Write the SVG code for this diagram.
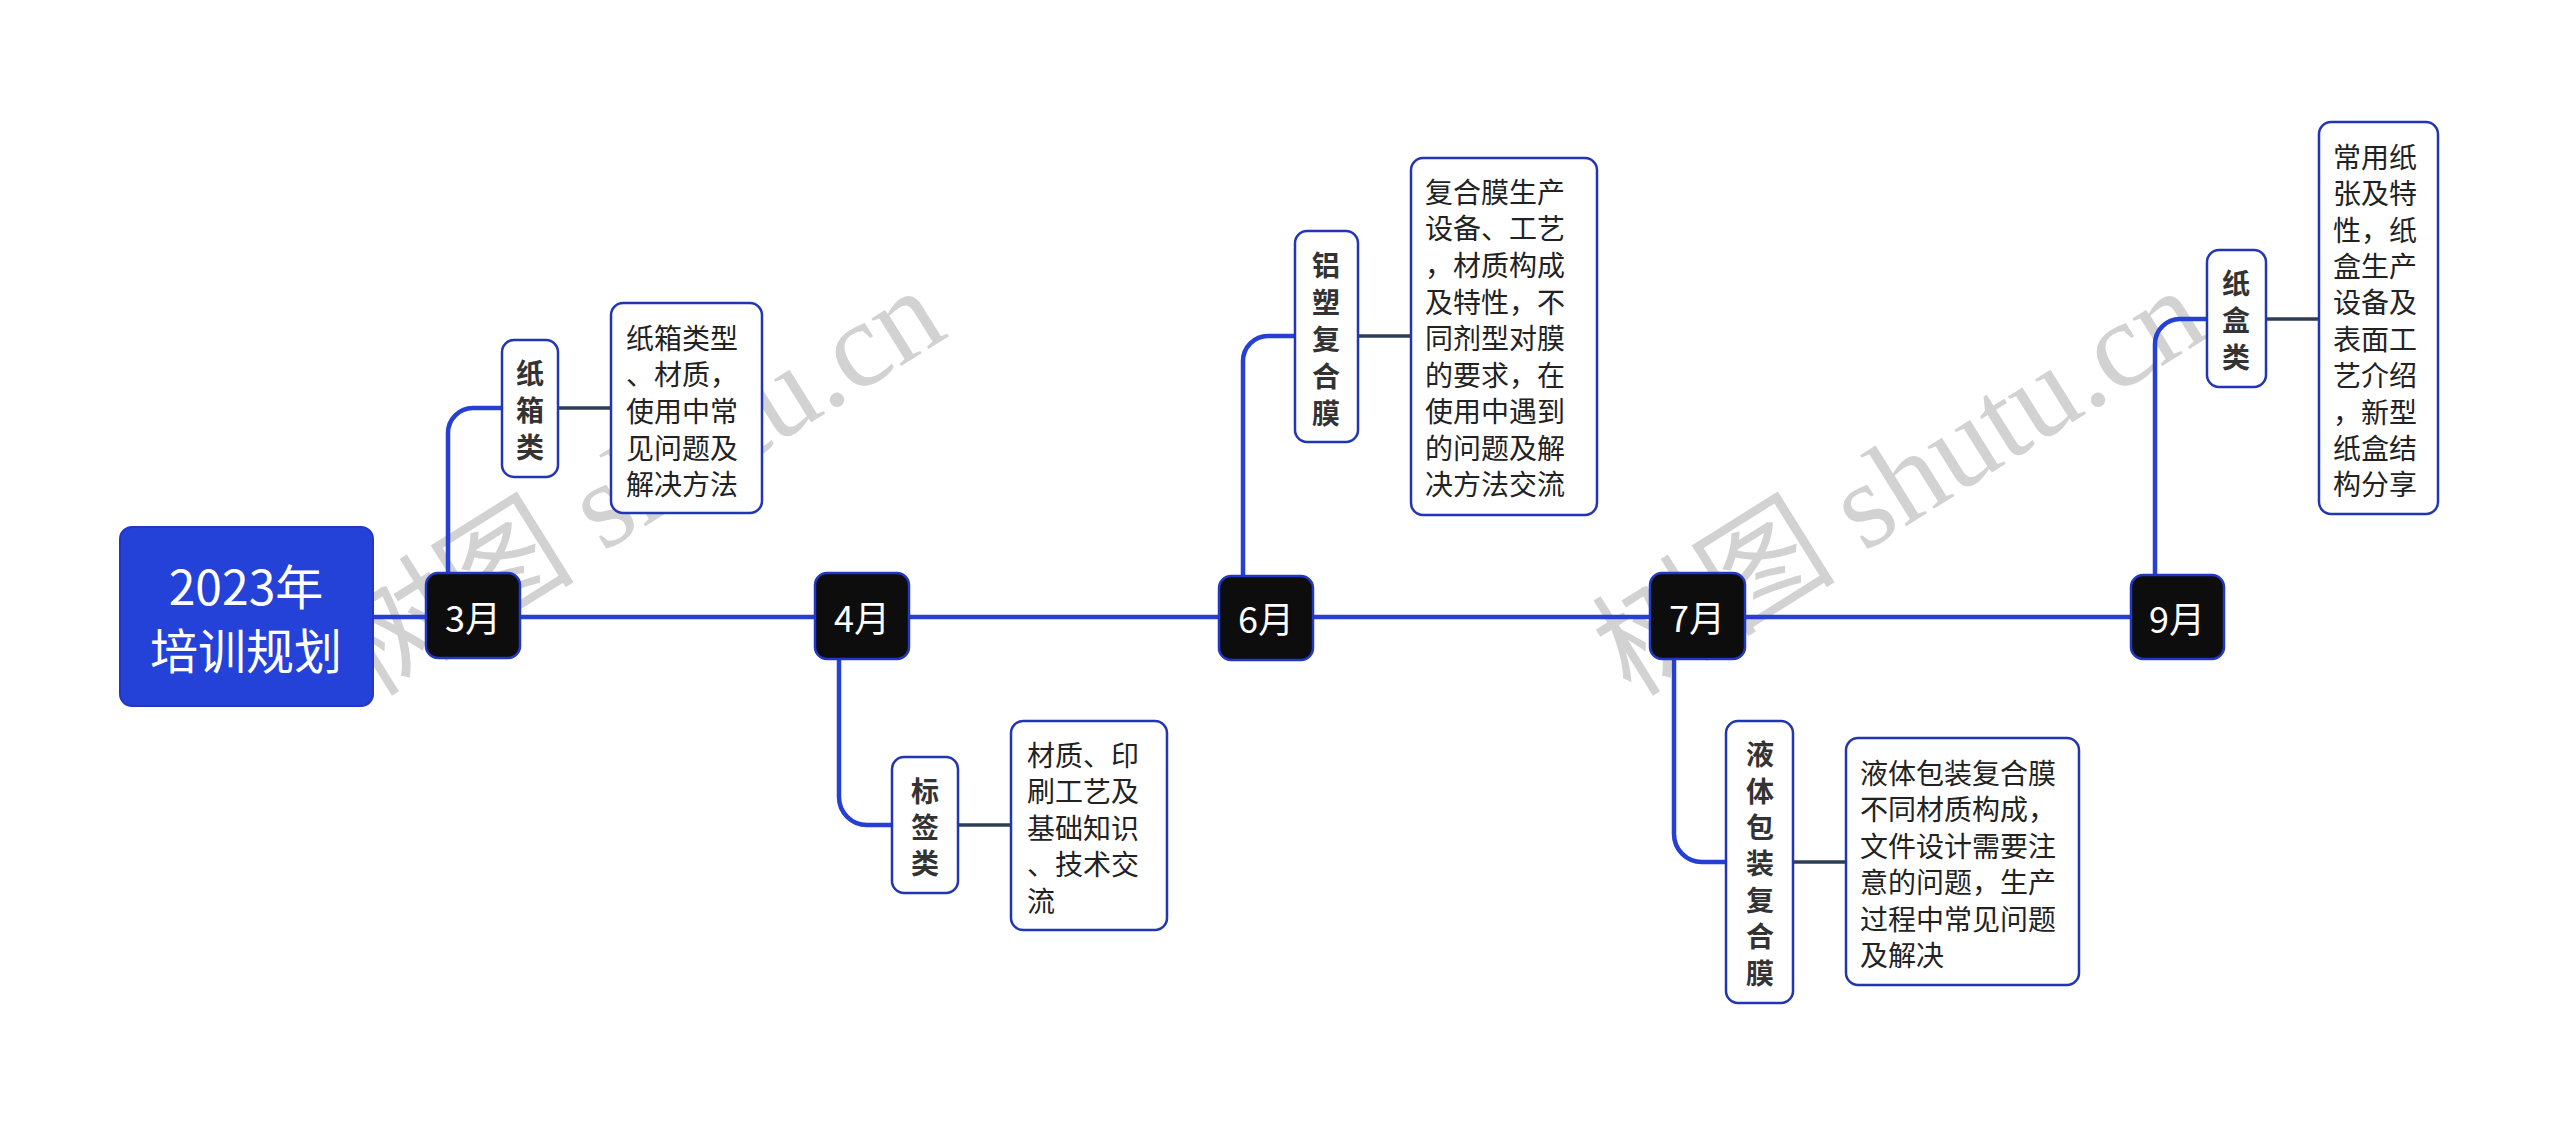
<svg xmlns="http://www.w3.org/2000/svg" width="2560" height="1125" viewBox="0 0 2560 1125">
<style>
.wm{font-family:"Liberation Serif","Noto Sans CJK SC",serif;font-size:122px;fill:#d2d2d2}
.main{fill:none;stroke:#2540d2;stroke-width:4.5}
.link{fill:none;stroke:#2c3e56;stroke-width:3.5}
.root{fill:#2441d8;stroke:#2238c4;stroke-width:2}
.month{fill:#0d0d0d;stroke:#2238c4;stroke-width:2.5}
.box{fill:#ffffff;stroke:#2236b4;stroke-width:2.5}
.rt{font-family:"Noto Sans CJK SC",sans-serif;font-size:48px;fill:#ffffff;text-anchor:middle;dominant-baseline:central}
.mt{font-family:"Noto Sans CJK SC",sans-serif;font-size:36px;fill:#ffffff;text-anchor:middle;dominant-baseline:central}
.st{font-family:"Noto Sans CJK SC",sans-serif;font-size:28px;font-weight:bold;fill:#333333;text-anchor:middle;dominant-baseline:central}
.dt{font-family:"Noto Sans CJK SC",sans-serif;font-size:28px;fill:#222222;dominant-baseline:central}
</style>
<rect width="2560" height="1125" fill="#ffffff"/>
<g id="watermark">
<text class="wm" transform="translate(370,698) rotate(-32)">树图 shutu.cn</text>
<text class="wm" transform="translate(1631,698) rotate(-32)">树图 shutu.cn</text>
</g>
<g id="connectors">
<path class="main" d="M373,617 H2131"/>
<path class="main" d="M448,573 V433 A25 25 0 0 1 473,408 H502"/>
<path class="main" d="M839,659 V797 A28 28 0 0 0 867,825 H892"/>
<path class="main" d="M1243,576 V361 A25 25 0 0 1 1268,336 H1295"/>
<path class="main" d="M1674,659 V834 A28 28 0 0 0 1702,862 H1726"/>
<path class="main" d="M2155,575 V344 A25 25 0 0 1 2180,319 H2207"/>
<path class="link" d="M558,408 H611"/>
<path class="link" d="M958,825 H1011"/>
<path class="link" d="M1358,336 H1411"/>
<path class="link" d="M1793,862 H1846"/>
<path class="link" d="M2266,319 H2319"/>
</g>
<g id="root">
<rect class="root" x="120" y="527" width="253" height="179" rx="12"/>
<text class="rt" x="246" y="584">2023年</text>
<text class="rt" x="246" y="648">培训规划</text>
</g>
<g id="m3">
<rect class="month" x="426" y="573" width="94" height="85" rx="12"/>
<text class="mt" x="473" y="616">3月</text>
</g>
<g id="m4">
<rect class="month" x="815" y="573" width="94" height="86" rx="12"/>
<text class="mt" x="862" y="616">4月</text>
</g>
<g id="m6">
<rect class="month" x="1219" y="576" width="94" height="84" rx="12"/>
<text class="mt" x="1266" y="617">6月</text>
</g>
<g id="m7">
<rect class="month" x="1650" y="573" width="95" height="86" rx="12"/>
<text class="mt" x="1697" y="616">7月</text>
</g>
<g id="m9">
<rect class="month" x="2131" y="575" width="93" height="84" rx="12"/>
<text class="mt" x="2177" y="617">9月</text>
</g>
<g id="s3">
<rect class="box" x="502" y="340" width="56" height="137" rx="12"/>
<text class="st"><tspan x="530" y="372">纸</tspan><tspan x="530" y="409">箱</tspan><tspan x="530" y="446">类</tspan></text>
</g>
<g id="d3">
<rect class="box" x="611" y="303" width="151" height="210" rx="12"/>
<text class="dt"><tspan x="626" y="337">纸箱类型</tspan><tspan x="626" y="373">、材质，</tspan><tspan x="626" y="410">使用中常</tspan><tspan x="626" y="447">见问题及</tspan><tspan x="626" y="483">解决方法</tspan></text>
</g>
<g id="s4">
<rect class="box" x="892" y="757" width="66" height="136" rx="12"/>
<text class="st"><tspan x="925" y="790">标</tspan><tspan x="925" y="826">签</tspan><tspan x="925" y="862">类</tspan></text>
</g>
<g id="d4">
<rect class="box" x="1011" y="721" width="156" height="209" rx="12"/>
<text class="dt"><tspan x="1027" y="754">材质、印</tspan><tspan x="1027" y="790">刷工艺及</tspan><tspan x="1027" y="827">基础知识</tspan><tspan x="1027" y="863">、技术交</tspan><tspan x="1027" y="900">流</tspan></text>
</g>
<g id="s6">
<rect class="box" x="1295" y="231" width="63" height="211" rx="12"/>
<text class="st"><tspan x="1326" y="264">铝</tspan><tspan x="1326" y="301">塑</tspan><tspan x="1326" y="338">复</tspan><tspan x="1326" y="375">合</tspan><tspan x="1326" y="412">膜</tspan></text>
</g>
<g id="d6">
<rect class="box" x="1411" y="158" width="186" height="357" rx="12"/>
<text class="dt"><tspan x="1425" y="191">复合膜生产</tspan><tspan x="1425" y="227">设备、工艺</tspan><tspan x="1425" y="264">，材质构成</tspan><tspan x="1425" y="301">及特性，不</tspan><tspan x="1425" y="337">同剂型对膜</tspan><tspan x="1425" y="374">的要求，在</tspan><tspan x="1425" y="410">使用中遇到</tspan><tspan x="1425" y="447">的问题及解</tspan><tspan x="1425" y="483">决方法交流</tspan></text>
</g>
<g id="s7">
<rect class="box" x="1726" y="721" width="67" height="282" rx="12"/>
<text class="st"><tspan x="1760" y="753">液</tspan><tspan x="1760" y="790">体</tspan><tspan x="1760" y="826">包</tspan><tspan x="1760" y="862">装</tspan><tspan x="1760" y="899">复</tspan><tspan x="1760" y="935">合</tspan><tspan x="1760" y="972">膜</tspan></text>
</g>
<g id="d7">
<rect class="box" x="1846" y="738" width="233" height="247" rx="12"/>
<text class="dt"><tspan x="1860" y="772">液体包装复合膜</tspan><tspan x="1860" y="808">不同材质构成，</tspan><tspan x="1860" y="845">文件设计需要注</tspan><tspan x="1860" y="881">意的问题，生产</tspan><tspan x="1860" y="918">过程中常见问题</tspan><tspan x="1860" y="954">及解决</tspan></text>
</g>
<g id="s9">
<rect class="box" x="2207" y="250" width="59" height="137" rx="12"/>
<text class="st"><tspan x="2236" y="282">纸</tspan><tspan x="2236" y="319">盒</tspan><tspan x="2236" y="356">类</tspan></text>
</g>
<g id="d9">
<rect class="box" x="2319" y="122" width="119" height="392" rx="12"/>
<text class="dt"><tspan x="2333" y="156">常用纸</tspan><tspan x="2333" y="192">张及特</tspan><tspan x="2333" y="229">性，纸</tspan><tspan x="2333" y="265">盒生产</tspan><tspan x="2333" y="301">设备及</tspan><tspan x="2333" y="338">表面工</tspan><tspan x="2333" y="374">艺介绍</tspan><tspan x="2333" y="411">，新型</tspan><tspan x="2333" y="447">纸盒结</tspan><tspan x="2333" y="483">构分享</tspan></text>
</g>
</svg>
